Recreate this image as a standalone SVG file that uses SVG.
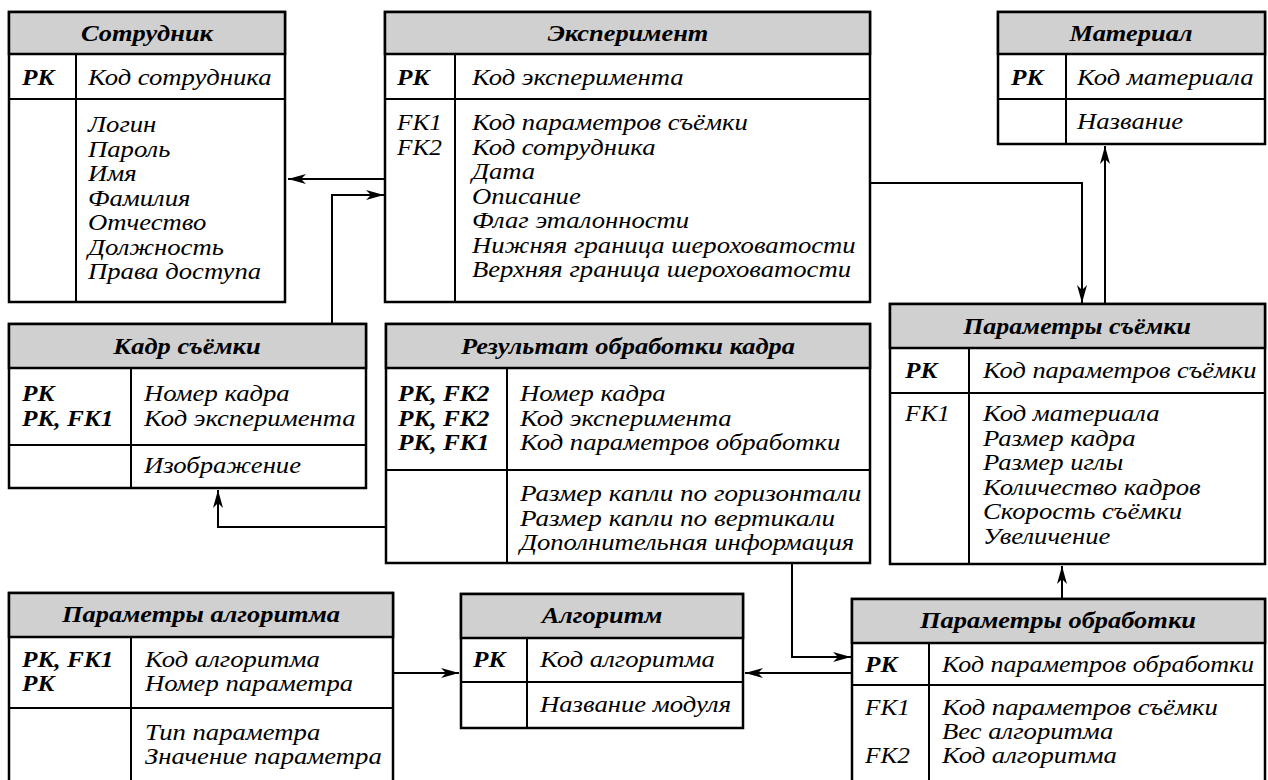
<svg xmlns="http://www.w3.org/2000/svg" width="1268" height="780" viewBox="0 0 1268 780">
<style>
.box{fill:#fff;stroke:#000;stroke-width:2.5}
.hdr{fill:#d0d0d0;stroke:#000;stroke-width:2.5}
.ln{stroke:#000;stroke-width:2;fill:none}
.k{font-weight:bold}
.h{font-weight:bold;text-anchor:middle}
.c{stroke:#000;stroke-width:2;fill:none;marker-end:url(#ah)}
</style>
<defs>
<marker id="ah" viewBox="0 0 18 10" refX="18" refY="5" markerWidth="18" markerHeight="10" markerUnits="userSpaceOnUse" orient="auto">
<path d="M0,0 L18,5 L0,10 L5,5 z" fill="#000"/>
</marker>
</defs>

<g id="connectors">
<path class="c" d="M385,179 H288"/>
<path class="c" d="M332,324 V195 H384"/>
<path class="c" d="M870,183 H1082 V303"/>
<path class="c" d="M1105,304 V146"/>
<path class="c" d="M386,527 H218 V490"/>
<path class="c" d="M792,563 V657 H851"/>
<path class="c" d="M1062,599 V566"/>
<path class="c" d="M393,673 H459"/>
<path class="c" d="M860,673 H745"/>
</g>

<g font-family="Liberation Serif, serif" font-style="italic" font-size="23" fill="#000">
<g id="sotrudnik">
<rect class="box" x="9" y="12" width="276" height="290"/>
<rect class="hdr" x="9" y="12" width="276" height="42"/>
<line class="ln" x1="9" y1="99" x2="285" y2="99"/>
<line class="ln" x1="76" y1="54" x2="76" y2="302"/>
<text class="h" transform="translate(147,41) scale(1.15,1)">Сотрудник</text>
<text class="k" transform="translate(22,85) scale(1.1,1)">PK</text>
<text transform="translate(88,85) scale(1.16,1)">Код сотрудника</text>
<text transform="translate(88,132) scale(1.16,1)">Логин</text>
<text transform="translate(88,156.5) scale(1.16,1)">Пароль</text>
<text transform="translate(88,181) scale(1.16,1)">Имя</text>
<text transform="translate(88,205.5) scale(1.16,1)">Фамилия</text>
<text transform="translate(88,230) scale(1.16,1)">Отчество</text>
<text transform="translate(88,254.5) scale(1.16,1)">Должность</text>
<text transform="translate(88,279) scale(1.16,1)">Права доступа</text>
</g>

<g id="eksperiment">
<rect class="box" x="385" y="12" width="485" height="290"/>
<rect class="hdr" x="385" y="12" width="485" height="42"/>
<line class="ln" x1="385" y1="99" x2="870" y2="99"/>
<line class="ln" x1="455" y1="54" x2="455" y2="302"/>
<text class="h" transform="translate(628,41) scale(1.15,1)">Эксперимент</text>
<text class="k" transform="translate(397,85) scale(1.1,1)">PK</text>
<text transform="translate(472,85) scale(1.16,1)">Код эксперимента</text>
<text transform="translate(397,130) scale(1.1,1)">FK1</text>
<text transform="translate(397,154.5) scale(1.1,1)">FK2</text>
<text transform="translate(472,130) scale(1.16,1)">Код параметров съёмки</text>
<text transform="translate(472,154.5) scale(1.16,1)">Код сотрудника</text>
<text transform="translate(472,179) scale(1.16,1)">Дата</text>
<text transform="translate(472,203.5) scale(1.16,1)">Описание</text>
<text transform="translate(472,228) scale(1.16,1)">Флаг эталонности</text>
<text transform="translate(472,252.5) scale(1.16,1)">Нижняя граница шероховатости</text>
<text transform="translate(472,277) scale(1.16,1)">Верхняя граница шероховатости</text>
</g>

<g id="material">
<rect class="box" x="998" y="12" width="267" height="132"/>
<rect class="hdr" x="998" y="12" width="267" height="42"/>
<line class="ln" x1="998" y1="99" x2="1265" y2="99"/>
<line class="ln" x1="1066" y1="54" x2="1066" y2="144"/>
<text class="h" transform="translate(1131,41) scale(1.15,1)">Материал</text>
<text class="k" transform="translate(1011,85) scale(1.1,1)">PK</text>
<text transform="translate(1077,85) scale(1.16,1)">Код материала</text>
<text transform="translate(1077,129) scale(1.16,1)">Название</text>
</g>

<g id="kadr">
<rect class="box" x="9" y="324" width="357" height="164"/>
<rect class="hdr" x="9" y="324" width="357" height="44"/>
<line class="ln" x1="9" y1="445" x2="366" y2="445"/>
<line class="ln" x1="131" y1="368" x2="131" y2="488"/>
<text class="h" transform="translate(187,354) scale(1.15,1)">Кадр съёмки</text>
<text class="k" transform="translate(22,401) scale(1.1,1)">PK</text>
<text class="k" transform="translate(22,425.5) scale(1.1,1)">PK, FK1</text>
<text transform="translate(144,401) scale(1.16,1)">Номер кадра</text>
<text transform="translate(144,425.5) scale(1.16,1)">Код эксперимента</text>
<text transform="translate(144,473) scale(1.16,1)">Изображение</text>
</g>

<g id="rezultat">
<rect class="box" x="386" y="324" width="484" height="239"/>
<rect class="hdr" x="386" y="324" width="484" height="44"/>
<line class="ln" x1="386" y1="470" x2="870" y2="470"/>
<line class="ln" x1="507" y1="368" x2="507" y2="563"/>
<text class="h" transform="translate(628,354) scale(1.15,1)">Результат обработки кадра</text>
<text class="k" transform="translate(398,401) scale(1.1,1)">PK, FK2</text>
<text class="k" transform="translate(398,425.5) scale(1.1,1)">PK, FK2</text>
<text class="k" transform="translate(398,450) scale(1.1,1)">PK, FK1</text>
<text transform="translate(520,401) scale(1.16,1)">Номер кадра</text>
<text transform="translate(520,425.5) scale(1.16,1)">Код эксперимента</text>
<text transform="translate(520,450) scale(1.16,1)">Код параметров обработки</text>
<text transform="translate(520,501) scale(1.18,1)">Размер капли по горизонтали</text>
<text transform="translate(520,525.5) scale(1.18,1)">Размер капли по вертикали</text>
<text transform="translate(520,550) scale(1.16,1)">Дополнительная информация</text>
</g>

<g id="param-semki">
<rect class="box" x="890" y="304" width="375" height="260"/>
<rect class="hdr" x="890" y="304" width="375" height="44"/>
<line class="ln" x1="890" y1="393" x2="1265" y2="393"/>
<line class="ln" x1="969" y1="348" x2="969" y2="564"/>
<text class="h" transform="translate(1077,334) scale(1.13,1)">Параметры съёмки</text>
<text class="k" transform="translate(905,378) scale(1.1,1)">PK</text>
<text transform="translate(983,378) scale(1.15,1)">Код параметров съёмки</text>
<text transform="translate(905,421) scale(1.1,1)">FK1</text>
<text transform="translate(983,421) scale(1.16,1)">Код материала</text>
<text transform="translate(983,445.5) scale(1.16,1)">Размер кадра</text>
<text transform="translate(983,470) scale(1.16,1)">Размер иглы</text>
<text transform="translate(983,494.5) scale(1.16,1)">Количество кадров</text>
<text transform="translate(983,519) scale(1.16,1)">Скорость съёмки</text>
<text transform="translate(983,543.5) scale(1.16,1)">Увеличение</text>
</g>

<g id="param-algoritma">
<rect class="box" x="9" y="593" width="384" height="200"/>
<rect class="hdr" x="9" y="593" width="384" height="44"/>
<line class="ln" x1="9" y1="708" x2="393" y2="708"/>
<line class="ln" x1="131" y1="637" x2="131" y2="793"/>
<text class="h" transform="translate(201,622) scale(1.15,1)">Параметры алгоритма</text>
<text class="k" transform="translate(22,667) scale(1.1,1)">PK, FK1</text>
<text class="k" transform="translate(22,691) scale(1.1,1)">PK</text>
<text transform="translate(145,667) scale(1.16,1)">Код алгоритма</text>
<text transform="translate(145,691) scale(1.16,1)">Номер параметра</text>
<text transform="translate(145,740) scale(1.16,1)">Тип параметра</text>
<text transform="translate(145,764) scale(1.16,1)">Значение параметра</text>
</g>

<g id="algoritm">
<rect class="box" x="461" y="594" width="282" height="134"/>
<rect class="hdr" x="461" y="594" width="282" height="44"/>
<line class="ln" x1="461" y1="682" x2="743" y2="682"/>
<line class="ln" x1="527" y1="638" x2="527" y2="728"/>
<text class="h" transform="translate(602,623) scale(1.15,1)">Алгоритм</text>
<text class="k" transform="translate(473,667) scale(1.1,1)">PK</text>
<text transform="translate(540,667) scale(1.16,1)">Код алгоритма</text>
<text transform="translate(540,712) scale(1.16,1)">Название модуля</text>
</g>

<g id="param-obrabotki">
<rect class="box" x="852" y="599" width="413" height="200"/>
<rect class="hdr" x="852" y="599" width="413" height="44"/>
<line class="ln" x1="852" y1="685" x2="1265" y2="685"/>
<line class="ln" x1="929" y1="643" x2="929" y2="799"/>
<text class="h" transform="translate(1058,628) scale(1.15,1)">Параметры обработки</text>
<text class="k" transform="translate(865,672) scale(1.1,1)">PK</text>
<text transform="translate(942,672) scale(1.13,1)">Код параметров обработки</text>
<text transform="translate(865,715) scale(1.1,1)">FK1</text>
<text transform="translate(942,715) scale(1.16,1)">Код параметров съёмки</text>
<text transform="translate(942,739) scale(1.16,1)">Вес алгоритма</text>
<text transform="translate(865,763) scale(1.1,1)">FK2</text>
<text transform="translate(942,763) scale(1.16,1)">Код алгоритма</text>
</g>
</g>
</svg>
